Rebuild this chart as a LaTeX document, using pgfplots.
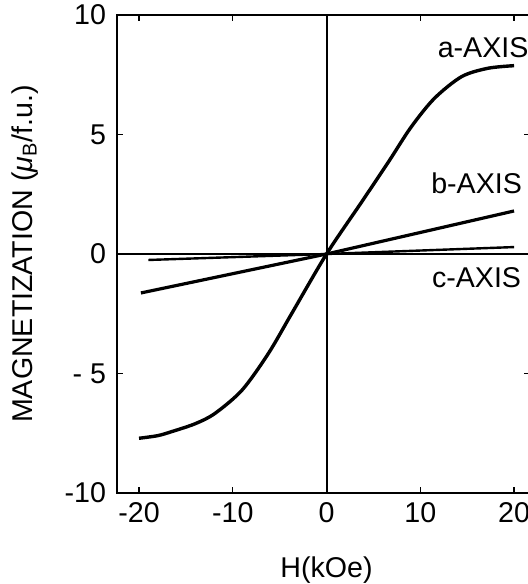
\documentclass[border=0pt]{standalone}
\usepackage{pgfplots}
\pgfplotsset{compat=1.18}
\usepackage{fontspec}
\setmainfont{Liberation Sans}
\newcommand\f{\fontsize{14.3}{16}\selectfont}

\begin{document}
\begin{tikzpicture}
\begin{axis}[
  scale only axis, width=206.5pt, height=239pt,
  xmin=-22.35, xmax=21.7, ymin=-10, ymax=10,
  xtick={-20,-10,0,10,20}, xticklabels={-20,-10,0,10,20},
  ytick={-10,-5,0,5,10}, yticklabels={-10,- 5,0,5,10},
  tick align=inside, major tick length=3pt,
  tick style={black, line width=0.6pt},
  axis line style={line width=1.2pt},
  every tick label/.append style={font=\f},
  yticklabel style={xshift=-2pt},
  xticklabel style={yshift=-1pt},
  every axis label/.append style={font=\f},
  xlabel={H(kOe)},
  ylabel={MAGNETIZATION (\textit{μ}\textsubscript{B}/f.u.)},
  every axis x label/.style={at={(axis cs:0,-10)}, yshift=-38.5pt, anchor=center},
  every axis y label/.style={at={(axis description cs:0,0.5)}, xshift=-46pt, anchor=center, rotate=90},
  clip=false,
]
% zero lines
\addplot[black, line width=1pt] coordinates {(0,-10)(0,10)};
\addplot[black, line width=1pt] coordinates {(-22.35,0)(21.7,0)};
% a-axis
\addplot[black, line width=1.7pt, smooth, tension=0.5] coordinates {
  (-20,-7.71)(-18,-7.6)(-16.5,-7.43)(-14,-7.1)(-11.9,-6.67)(-9,-5.69)(-6.2,-4.16)(-3.7,-2.48)(0,0)
  (3.7,2.15)(6.6,3.85)(9,5.3)(11.5,6.51)(14.4,7.42)(17.2,7.77)(20,7.88)};
% b-axis
\addplot[black, line width=1.6pt] coordinates {(-19.8,-1.63)(0,0)(20,1.8)};
% c-axis
\addplot[black, line width=1.2pt] coordinates {(-19,-0.25)(0,0)(20,0.29)};
\node[font=\f] at (axis cs:16.7,8.62) {a-AXIS};
\node[font=\f] at (axis cs:16.0,2.97) {b-AXIS};
\node[font=\f] at (axis cs:16.0,-1.0) {c-AXIS};
\end{axis}
\pgfresetboundingbox
\path ([xshift=-58.5pt,yshift=-45.5pt]current axis.south west) rectangle ([xshift=205.5pt,yshift=7.5pt]current axis.north west);
\end{tikzpicture}
\end{document}
